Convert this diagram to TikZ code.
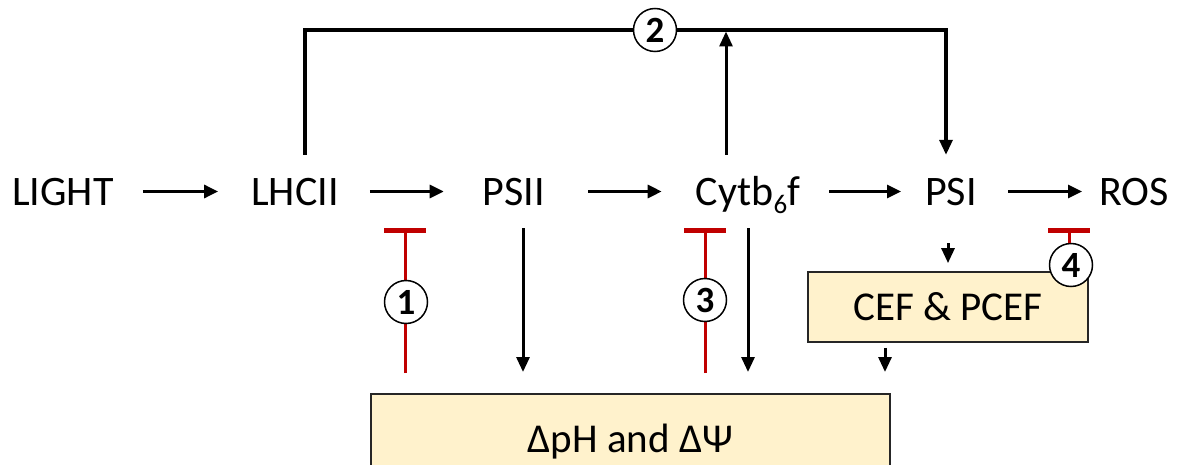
\documentclass[tikz,border=0pt]{standalone}
\usepackage{fontspec}
\setmainfont{Carlito}
\usetikzlibrary{arrows.meta}
\definecolor{boxfill}{HTML}{FFF2CC}
\definecolor{inhred}{HTML}{C00000}
\begin{document}
\begin{tikzpicture}[x=1pt,y=-1pt,
  lbl/.style={inner sep=0pt, text height=27pt, text depth=0pt, font=\fontsize{42}{50}\selectfont},
  harr/.style={line width=3pt, -{Triangle[length=14pt,width=13pt]}},
  varr/.style={line width=3pt, -{Triangle[length=15pt,width=13pt]}},
  conn/.style={line width=3.2pt},
  inh/.style={draw=inhred, line width=3pt, -{Bar[width=42pt,line width=4.5pt]}},
  num/.style={circle, draw=black, line width=1.5pt, fill=white, minimum size=43pt, inner sep=0pt, font=\fontsize{37}{40}\selectfont\bfseries},
  pbox/.style={draw=black!85, line width=1.8pt, fill=boxfill, inner sep=0pt, font=\fontsize{41}{48}\selectfont}
]
\clip (0,0) rectangle (1182,465);
\fill[white] (0,0) rectangle (1182,465);

% main chain
\node[lbl, anchor=west] (light) at (12,191.5) {LIGHT};
\node[lbl] (lhcii) at (295,191.5) {LHCII};
\node[lbl] (psii) at (514,191.5) {PSII};
\node[lbl] (cyt) at (748,191.5) {Cytb\raisebox{-8pt}{\fontsize{27}{30}\selectfont 6}f};
\node[lbl] (psi) at (951,191.5) {PSI};
\node[lbl] (ros) at (1134,191.5) {ROS};

\draw[harr, shorten <=29pt, shorten >=33pt] (light) -- (lhcii);
\draw[harr, shorten <=31pt, shorten >=39pt] (lhcii) -- (psii);
\draw[harr, shorten <=43pt, shorten >=34pt] (psii) -- (cyt);
\draw[harr, shorten <=29pt, shorten >=24pt] (cyt) -- (psi);
\draw[harr, shorten <=31pt, shorten >=17pt] (psi) -- (ros);

% boxes
\node[pbox, minimum width=519pt, minimum height=96pt, anchor=north] (dph) at (630.5,393) {ΔpH and ΔΨ};
\node[pbox, minimum width=280pt, minimum height=70pt] (cef) at (948,307) {CEF \& PCEF};

% top loop
\coordinate (topL) at (305,30);
\coordinate (topR) at (946,30);
\draw[conn, -{Triangle[length=15pt,width=13pt]}, shorten <=23pt, shorten >=23pt]
  (lhcii.north -| topL) -- (topL) -- (topR) -- (psi.north -| topR);
\coordinate (cytup) at (726,31.5);
\draw[varr, shorten <=23pt] (cyt.north -| cytup) -- (cytup);
\node[num] (n2) at (655,30) {2};

% downward arrows
\coordinate (xa) at (523,0);
\draw[varr, shorten <=23pt, shorten >=21pt] (psii.south -| xa) -- (dph.north -| xa);
\draw[varr, shorten <=23pt, shorten >=21pt] (cyt.south) -- (cyt.south |- dph.north);
\draw[varr, shorten <=38pt, shorten >=8pt] (psi.south -| cef.north) -- (cef.north);
\coordinate (xc) at (885,0);
\draw[varr, shorten <=5pt, shorten >=21pt] (cef.south -| xc) -- (dph.north -| xc);

% inhibitors
\coordinate (bar1) at (405,228);
\coordinate (bar3) at (705,228);
\coordinate (bar4) at (1069,228);
\draw[inh, shorten <=20pt] (dph.north -| bar1) -- (bar1);
\draw[inh, shorten <=20pt] (dph.north -| bar3) -- (bar3);
\node[num] (n1) at (406,302) {1};
\node[num] (n3) at (705,300) {3};
\node[num] (n4) at (1071,265) {4};
\draw[inh] (n4.north -| bar4) -- (bar4);
\end{tikzpicture}
\end{document}
